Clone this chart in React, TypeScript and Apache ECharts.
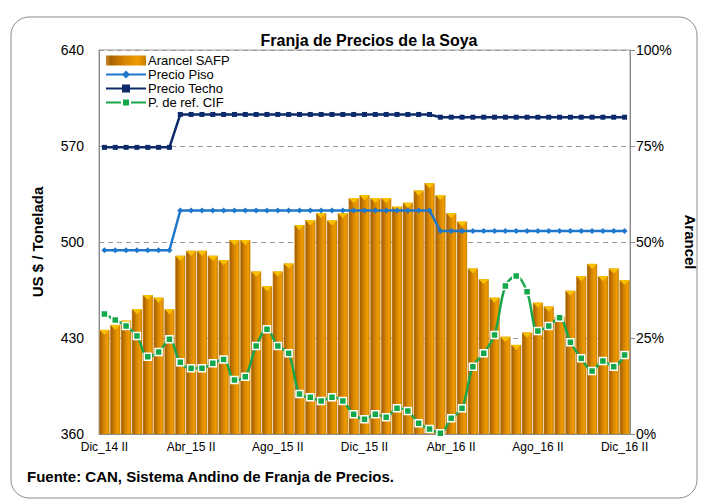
import React, { useEffect, useRef } from "react";
import * as echarts from "echarts";

const categories = [
  "Dic_14 II",
  "Ene_15 I", "Ene_15 II", "Feb_15 I", "Feb_15 II", "Mar_15 I", "Mar_15 II",
  "Abr_15 I", "Abr_15 II", "May_15 I", "May_15 II", "Jun_15 I", "Jun_15 II",
  "Jul_15 I", "Jul_15 II", "Ago_15 I", "Ago_15 II", "Sep_15 I", "Sep_15 II",
  "Oct_15 I", "Oct_15 II", "Nov_15 I", "Nov_15 II", "Dic_15 I", "Dic_15 II",
  "Ene_16 I", "Ene_16 II", "Feb_16 I", "Feb_16 II", "Mar_16 I", "Mar_16 II",
  "Abr_16 I", "Abr_16 II", "May_16 I", "May_16 II", "Jun_16 I", "Jun_16 II",
  "Jul_16 I", "Jul_16 II", "Ago_16 I", "Ago_16 II", "Sep_16 I", "Sep_16 II",
  "Oct_16 I", "Oct_16 II", "Nov_16 I", "Nov_16 II", "Dic_16 I", "Dic_16 II",
];

// Arancel SAFP (%)
const arancel = [
  27.1, 28.4, 29.5, 32.5, 36.2, 35.5, 32.5, 46.4, 47.7, 47.7, 46.4, 45.3,
  50.5, 50.5, 42.3, 38.5, 42.3, 44.4, 54.4, 55.7, 57.5, 55.6, 57.5, 61.4,
  62.2, 61.4, 61.4, 59.2, 60.2, 63.4, 65.3, 62.2, 57.5, 55.3, 43.1, 40.3,
  35.5, 25.3, 23.2, 26.4, 34.2, 33.2, 30.6, 37.3, 41.1, 44.3, 41.1, 43.1,
  40.1,
];

// Precio Piso (US$/t)
const precioPiso = [
  494, 494, 494, 494, 494, 494, 494, 523, 523, 523, 523, 523, 523, 523, 523,
  523, 523, 523, 523, 523, 523, 523, 523, 523, 523, 523, 523, 523, 523, 523,
  523, 508, 508, 508, 508, 508, 508, 508, 508, 508, 508, 508, 508, 508, 508,
  508, 508, 508, 508,
];

// Precio Techo (US$/t)
const precioTecho = [
  569, 569, 569, 569, 569, 569, 569, 593, 593, 593, 593, 593, 593, 593, 593,
  593, 593, 593, 593, 593, 593, 593, 593, 593, 593, 593, 593, 593, 593, 593,
  593, 591, 591, 591, 591, 591, 591, 591, 591, 591, 591, 591, 591, 591, 591,
  591, 591, 591, 591,
];

// P. de ref. CIF (US$/t)
const precioCIF = [
  447.5, 443.1, 438.8, 431.5, 416.4, 419.8, 429.0, 412.3, 407.9, 407.9, 411.5,
  414.4, 399.4, 401.8, 424.2, 436.3, 424.2, 418.8, 389.2, 386.8, 384.1, 386.8,
  384.1, 374.4, 370.7, 374.4, 372.2, 378.7, 376.8, 367.8, 363.6, 360.5, 371.4,
  378.7, 409.1, 418.8, 432.2, 467.9, 475.2, 463.8, 435.1, 438.8, 444.8, 426.9,
  415.2, 405.9, 413.2, 409.1, 417.6,
];

const leftTicks = { min: 360, max: 640, interval: 70 };
const rightTicks = { min: 0, max: 100, interval: 25 };

const FONT = "'Liberation Sans Narrow', 'Arial Narrow', 'Liberation Sans', Arial, sans-serif";

export default function App() {
  const ref = useRef<HTMLDivElement>(null);
  useEffect(() => {
    if (!ref.current) return;
    const chart = echarts.init(ref.current, null, { renderer: "svg" });
    const barGradient = new echarts.graphic.LinearGradient(0, 0, 1, 0, [
      { offset: 0, color: "#c98a2a" },
      { offset: 0.12, color: "#a86200" },
      { offset: 0.45, color: "#d68500" },
      { offset: 0.8, color: "#f09c00" },
      { offset: 1, color: "#c47c00" },
    ]);
    chart.setOption({
      animation: false,
      backgroundColor: "#ffffff",
      textStyle: { fontFamily: FONT },
      title: {
        text: "Franja de Precios de la Soya",
        left: 364,
        top: 27,
        textAlign: "center",
        textStyle: { fontFamily: FONT, fontSize: 16, fontWeight: "bold", color: "#000" },
      },
      graphic: [
        {
          type: "rect",
          shape: { x: 11, y: 17, width: 686, height: 481, r: 18 },
          style: { fill: "none", stroke: "#8c8c8c", lineWidth: 1 },
          silent: true,
        },
        {
          type: "text",
          left: 27,
          top: 469,
          style: {
            text: "Fuente: CAN, Sistema Andino de Franja de Precios.",
            font: "bold 15px " + FONT,
            fill: "#000",
          },
        },
      ],
      legend: {
        left: 100,
        top: 52,
        orient: "vertical",
        itemGap: 1,
        itemWidth: 40,
        itemHeight: 10,
        padding: [2, 5, 2, 5],
        textStyle: { fontFamily: FONT, fontSize: 13, lineHeight: 13, color: "#000", padding: [0, 0, 0, -3] },
        data: [
          { name: "Arancel SAFP", icon: "rect" },
          { name: "Precio Piso" },
          { name: "Precio Techo" },
          { name: "P. de ref. CIF" },
        ],
      },
      grid: {
        left: 99,
        right: 78,
        top: 50,
        bottom: 66,
        show: true,
        borderColor: "#9a9a9a",
        borderWidth: 1,
      },
      xAxis: {
        type: "category",
        data: categories,
        boundaryGap: true,
        axisLine: { lineStyle: { color: "#8c8c8c" } },
        axisTick: { interval: 3, length: 5, lineStyle: { color: "#8c8c8c" } },
        axisLabel: { interval: 7, fontFamily: FONT, fontSize: 12, color: "#000", margin: 7 },
      },
      yAxis: [
        {
          type: "value",
          min: leftTicks.min,
          max: leftTicks.max,
          interval: leftTicks.interval,
          name: "US $ / Tonelada",
          nameLocation: "middle",
          nameRotate: 90,
          nameGap: 54,
          nameTextStyle: { fontFamily: FONT, fontSize: 15, fontWeight: "bold", color: "#000" },
          axisLine: { show: true, lineStyle: { color: "#8c8c8c" } },
          axisTick: { show: false },
          axisLabel: { fontFamily: FONT, fontSize: 14, color: "#000", margin: 15 },
          splitLine: { show: true, lineStyle: { color: "#9a9a9a", type: [5, 4] } },
        },
        {
          type: "value",
          min: rightTicks.min,
          max: rightTicks.max,
          interval: rightTicks.interval,
          name: "Arancel",
          nameLocation: "middle",
          nameRotate: -90,
          nameGap: 52,
          nameTextStyle: { fontFamily: FONT, fontSize: 15, fontWeight: "bold", color: "#000" },
          axisLine: { show: true, lineStyle: { color: "#8c8c8c" } },
          axisTick: { show: true, length: 5, inside: false, lineStyle: { color: "#8c8c8c" } },
          axisLabel: { fontFamily: FONT, fontSize: 14, color: "#000", margin: 6, formatter: "{value}%" },
          splitLine: { show: false },
        },
      ],
      series: [
        {
          name: "Arancel SAFP",
          type: "bar",
          yAxisIndex: 1,
          data: arancel,
          barCategoryGap: "6%",
          itemStyle: { color: barGradient },
          z: 1,
        },
        {
          name: "Arancel cap",
          type: "pictorialBar",
          yAxisIndex: 1,
          data: arancel,
          barCategoryGap: "6%",
          symbol: "path://M0,0 L10,0 L5,5 Z",
          symbolPosition: "end",
          symbolSize: ["100%", 5],
          symbolRepeat: false,
          itemStyle: { color: "#f7c000" },
          silent: true,
          z: 2,
        },
        {
          name: "Precio Piso",
          type: "line",
          yAxisIndex: 0,
          data: precioPiso,
          symbol: "diamond",
          symbolSize: 6,
          lineStyle: { color: "#1f77cc", width: 2.5 },
          itemStyle: { color: "#1f77cc" },
          z: 3,
        },
        {
          name: "Precio Techo",
          type: "line",
          yAxisIndex: 0,
          data: precioTecho,
          symbol: "rect",
          symbolSize: [5, 5],
          lineStyle: { color: "#0d2a6b", width: 2.5 },
          itemStyle: { color: "#0d2a6b" },
          z: 3,
        },
        {
          name: "P. de ref. CIF",
          type: "line",
          yAxisIndex: 0,
          data: precioCIF,
          smooth: 0.35,
          symbol: "rect",
          symbolSize: 7,
          lineStyle: { color: "#1aa64a", width: 2.5 },
          itemStyle: { color: "#12a84a", borderColor: "#ffffff", borderWidth: 1.5 },
          z: 4,
        },
      ],
    });
    return () => chart.dispose();
  }, []);
  return (
    <div style={{ position: "fixed", left: 0, top: 0, width: 708, height: 500, background: "#fff" }}>
      <div ref={ref} style={{ width: 708, height: 500 }} />
    </div>
  );
}
